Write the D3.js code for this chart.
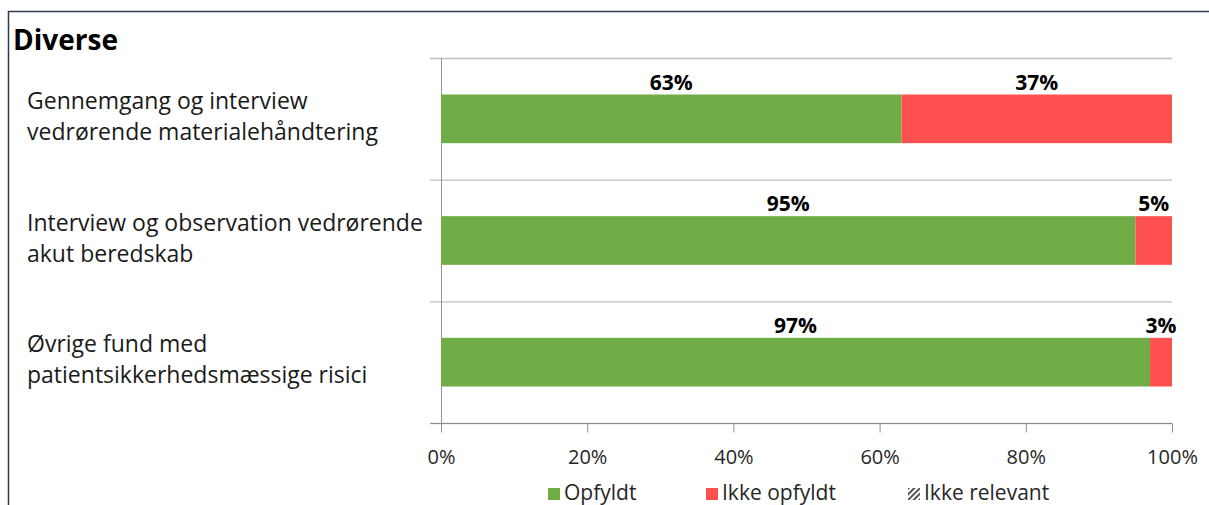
<!DOCTYPE html>
<html>
<head>
<meta charset="utf-8">
<script src="https://cdn.jsdelivr.net/npm/d3@7"></script>
<style>
  body { margin: 0; background: #fff; }
  text { font-family: "Open Sans", sans-serif; }
</style>
</head>
<body>
<div id="graph"></div>
<script>
"use strict"

var categories = [
    ["Gennemgang og interview", "vedrørende materialehåndtering"],
    ["Interview og observation vedrørende", "akut beredskab"],
    ["Øvrige fund med", "patientsikkerhedsmæssige risici"]
]
var opfyldt = [63, 95, 97]
var ikkeOpfyldt = [37, 5, 3]
var ikkeRelevant = [0, 0, 0]
var seriesNames = ["Opfyldt", "Ikke opfyldt", "Ikke relevant"]
var ticks = [0, 20, 40, 60, 80, 100]

var width = 1209, height = 505
var margin = {top: 58, left: 441, right: 37, bottom: 82}

main()

function main() {
    let svg = d3.select("#graph").append("svg")
        .attr("width", width).attr("height", height)

    let defs = svg.append("defs")
    let pat = defs.append("pattern").attr("id", "hatch")
        .attr("width", 4).attr("height", 4)
        .attr("patternUnits", "userSpaceOnUse")
        .attr("patternTransform", "rotate(45)")
    pat.append("rect").attr("width", 2).attr("height", 4).attr("fill", "#555")

    // frame
    svg.append("path")
        .attr("d", "M8.5," + height + "V11.5H" + width)
        .attr("fill", "none").attr("stroke", "#2e3a4e").attr("stroke-width", 1.5)

    svg.append("text").attr("x", 13).attr("y", 50)
        .style("font-size", "28px").style("font-weight", "bold")
        .text("Diverse")

    let x = d3.scaleLinear().domain([0, 100]).range([margin.left, width - margin.right])
    let y = d3.scaleBand().domain(d3.range(categories.length))
        .range([margin.top, height - margin.bottom]).paddingInner(0.6).paddingOuter(0.3)
    let band = d3.scaleBand().domain(d3.range(categories.length))
        .range([margin.top, height - margin.bottom])

    let data = categories.map(function(c, i) {
        return {i: i, vals: [opfyldt[i], ikkeOpfyldt[i], ikkeRelevant[i]]}
    })
    let colors = ["#70ad47", "#ff5050", "url(#hatch)"]

    // category separators
    svg.append("g").selectAll("line")
        .data(d3.range(categories.length + 1))
        .enter().append("line")
        .attr("x1", margin.left - 11).attr("x2", x(100))
        .attr("y1", function(d) { return d < categories.length ? band(d) + 0.5 : band(d - 1) + band.bandwidth() + 0.5 })
        .attr("y2", function(d) { return d < categories.length ? band(d) + 0.5 : band(d - 1) + band.bandwidth() + 0.5 })
        .attr("stroke", "#bfbfbf").attr("stroke-width", 1.3)

    // y axis line
    svg.append("line")
        .attr("x1", x(0) + 0.5).attr("x2", x(0) + 0.5)
        .attr("y1", margin.top).attr("y2", height - margin.bottom)
        .attr("stroke", "#8a96a8")

    // bars
    let rows = svg.append("g").selectAll("g").data(data).enter().append("g")
    rows.each(function(d) {
        let g = d3.select(this)
        let cum = 0
        d.vals.forEach(function(v, k) {
            if (v > 0) {
                g.append("rect")
                    .attr("x", x(cum)).attr("width", x(cum + v) - x(cum))
                    .attr("y", y(d.i)).attr("height", y.bandwidth())
                    .attr("fill", colors[k])
                g.append("text")
                    .attr("x", (x(cum) + x(cum + v)) / 2)
                    .attr("y", y(d.i) - 5)
                    .attr("text-anchor", "middle")
                    .style("font-size", "21px").style("font-weight", "bold")
                    .text(v + "%")
            }
            cum += v
        })
    })

    // category labels
    svg.append("g").selectAll("text").data(categories).enter().append("text")
        .attr("x", 27)
        .attr("y", function(d, i) { return band(i) + band.bandwidth() / 2 - 10 })
        .style("font-size", "23px").style("fill", "#1a1a1a")
        .each(function(d) {
            let t = d3.select(this)
            d.forEach(function(line, j) {
                t.append("tspan").attr("x", 27).attr("dy", j == 0 ? 0 : 31).text(line)
            })
        })

    // x axis
    let axis = svg.append("g")
        .attr("transform", "translate(0," + (height - margin.bottom + 0.5) + ")")
        .call(d3.axisBottom(x).tickValues(ticks).tickSize(9).tickPadding(17)
            .tickFormat(function(d) { return d + "%" }))
    axis.select(".domain").attr("stroke", "#8c8c8c").attr("d", "M" + (x(0) - 11) + ",0H" + x(100))
    axis.selectAll(".tick line").attr("stroke", "#8c8c8c")
    axis.selectAll(".tick text").style("font-size", "20px").attr("fill", "#262626")
        .style("font-family", "'Open Sans', sans-serif")

    // legend
    let legendX = [548, 706, 908]
    let legend = svg.append("g").selectAll("g").data(seriesNames).enter().append("g")
        .attr("transform", function(d, i) { return "translate(" + legendX[i] + ",493)" })
    legend.append("rect").attr("x", 0).attr("y", -5).attr("width", 12).attr("height", 12)
        .attr("fill", function(d, i) { return colors[i] })
    legend.append("text").attr("x", 16).attr("y", 7)
        .style("font-size", "21px").attr("fill", "#262626")
        .text(function(d) { return d })
}
</script>
</body>
</html>
